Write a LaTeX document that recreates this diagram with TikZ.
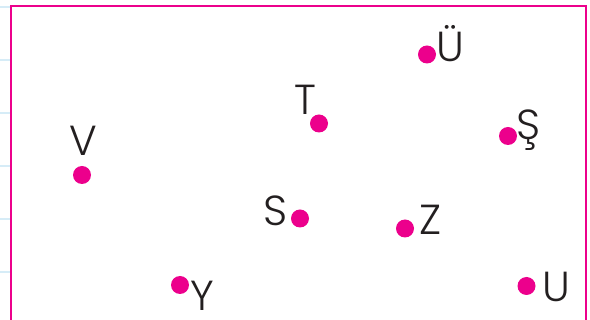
\documentclass[tikz,border=0pt]{standalone}
\usepackage{fontspec}
\setmainfont{Poppins Light}
\usepackage{xcolor}
\usepackage{tikz}
\usetikzlibrary{positioning}
\definecolor{ptMagenta}{HTML}{EC008C}
\definecolor{ptRule}{HTML}{D6ECF7}
\definecolor{ptInk}{HTML}{231F20}
\tikzset{
  point/.style={
    circle, fill=ptMagenta, draw=none,
    inner sep=0pt, minimum size=18pt
  },
  letter/.style={
    anchor=base, inner sep=0pt,
    text=ptInk, font=\fontsize{42}{42}\selectfont
  },
  frame/.style={draw=ptMagenta, line width=2pt},
  rule/.style={draw=ptRule, line width=2pt}
}

\begin{document}
\begin{tikzpicture}[x=1pt, y=-1pt]
        \useasboundingbox (0,0) rectangle (590,320);
        \foreach \y in {7,60,113,166,219,272} {
          \draw[rule] (0,\y) -- (10,\y);
        }
        \draw[frame] (11,321) -- (11,6) -- (586,6) -- (586,321);
        \node[point] (pV) at (82,175) {};
        \node[point] (pT) at (319,123.5) {};
        \node[point] (pUe) at (427,54.5) {};
        \node[point] (pSc) at (508,136) {};
        \node[point] (pS) at (300,218.5) {};
        \node[point] (pZ) at (405,228.5) {};
        \node[point] (pY) at (180,285) {};
        \node[point] (pU) at (526.5,286) {};
        \node[letter] (lV) at (83,156) {V};
        \node[letter] (lT) at (305.5,115) {T};
        \node[letter] (lUe) at (450.5,61.5) {Ü};
        \node[letter] (lSc) at (529,140) {Ş};
        \node[letter] (lS) at (276,226) {S};
        \node[letter] (lZ) at (431,235) {Z};
        \node[letter] (lY) at (202,311) {Y};
        \node[letter] (lU) at (556,302) {U};
      \end{tikzpicture}
\end{document}
